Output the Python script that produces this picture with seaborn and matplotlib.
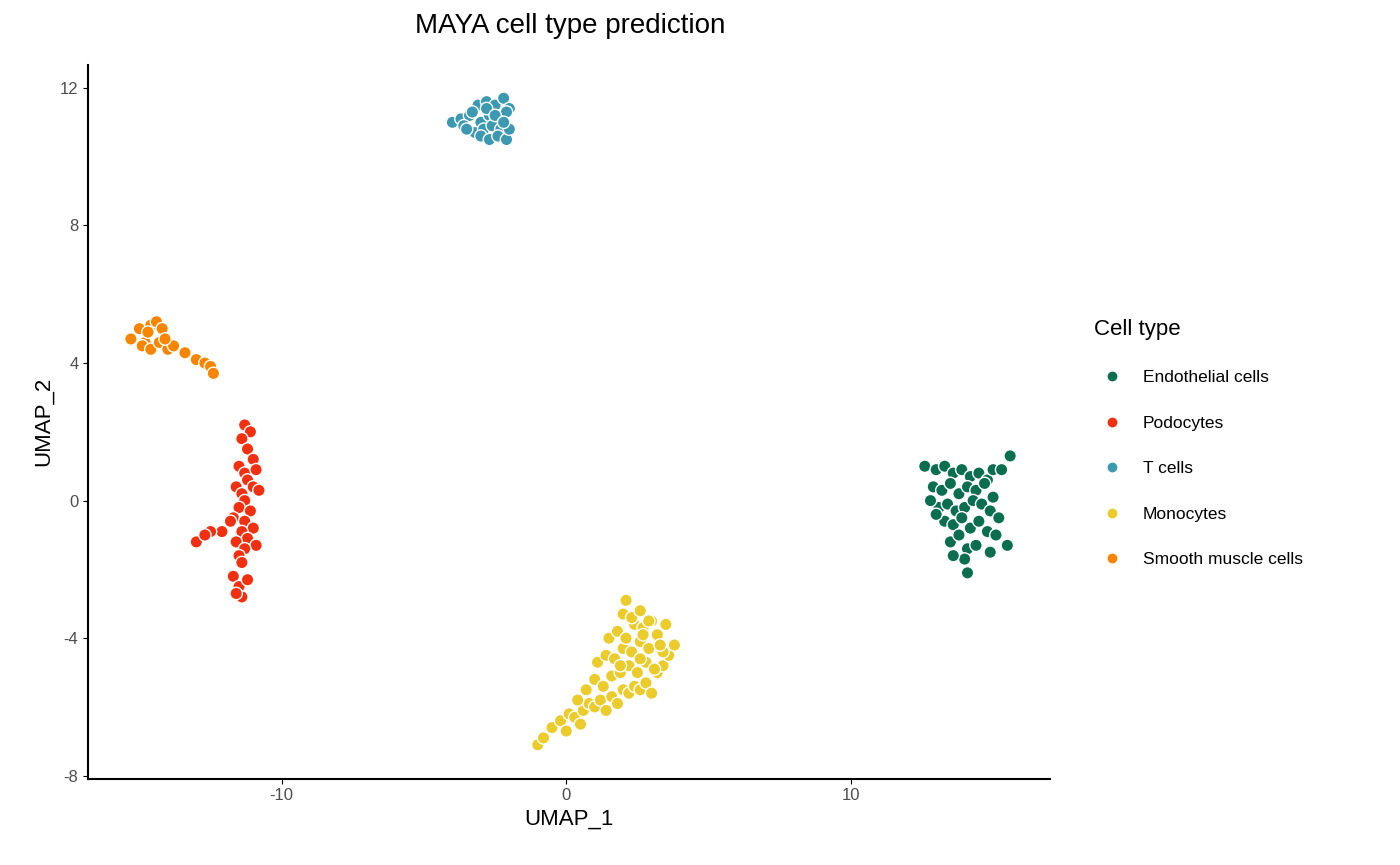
import pandas as pd
import matplotlib.pyplot as plt
import seaborn as sns

# cluster coordinates
endo_x = [12.6, 13.0, 13.3, 13.6, 13.9, 14.2, 14.5, 14.8, 15.0, 15.3, 15.6, 12.9, 13.2, 13.5, 13.8,
          14.1, 14.4, 14.7, 15.0, 13.1, 13.4, 13.7, 14.0, 14.3, 14.6, 14.9, 15.2, 13.3, 13.6, 13.9,
          14.2, 14.5, 14.8, 15.1, 13.5, 13.8, 14.1, 14.4, 14.0, 14.1, 12.8, 13.0, 15.5, 14.9, 13.6]
endo_y = [1.0, 0.9, 1.0, 0.8, 0.9, 0.7, 0.8, 0.6, 0.9, 0.9, 1.3, 0.4, 0.3, 0.5, 0.2, 0.4, 0.3,
          0.5, 0.1, -0.2, -0.1, -0.3, -0.2, 0.0, -0.1, -0.3, -0.5, -0.6, -0.7, -0.5, -0.8, -0.6,
          -0.9, -1.0, -1.2, -1.0, -1.4, -1.3, -1.7, -2.1, 0.0, -0.4, -1.3, -1.5, -1.6]
podo_x = [-11.3, -11.1, -11.4, -11.2, -11.0, -11.5, -11.3, -10.9, -11.2, -11.6, -11.4, -11.0,
          -10.8, -11.3, -11.5, -11.1, -11.7, -11.3, -11.0, -11.4, -11.2, -11.6, -10.9, -11.3,
          -11.5, -11.8, -12.1, -12.5, -13.0, -12.7, -11.4, -11.7, -11.5, -11.2, -11.4, -11.6]
podo_y = [2.2, 2.0, 1.8, 1.5, 1.2, 1.0, 0.8, 0.9, 0.6, 0.4, 0.2, 0.4, 0.3, 0.0, -0.2, -0.3,
          -0.5, -0.6, -0.8, -0.9, -1.1, -1.2, -1.3, -1.4, -1.6, -0.6, -0.9, -0.9, -1.2, -1.0,
          -1.8, -2.2, -2.5, -2.3, -2.8, -2.7]
tcell_x = [-4.0, -3.7, -3.4, -3.1, -2.8, -2.5, -2.2, -2.0, -3.6, -3.3, -3.0, -2.7, -2.4, -2.1,
           -3.2, -2.9, -2.6, -2.3, -3.0, -2.7, -2.4, -2.1, -2.8, -2.5, -3.5, -2.0, -2.2]
tcell_y = [11.0, 11.1, 11.2, 11.5, 11.6, 11.5, 11.7, 11.4, 10.9, 11.3, 11.0, 11.2, 11.1, 11.3,
           10.7, 10.8, 10.9, 10.8, 10.6, 10.5, 10.6, 10.5, 11.4, 11.2, 10.8, 10.8, 11.0]
mono_x = [-1.0, -0.8, -0.5, -0.2, 0.1, 0.3, 0.6, 0.8, 1.0, 1.2, 1.4, 1.6, 1.8, 2.0, 2.2, 2.4,
          2.6, 2.8, 3.0, 3.2, 3.4, 3.6, 3.8, 0.4, 0.7, 1.0, 1.3, 1.6, 1.9, 2.2, 2.5, 2.8, 3.1,
          3.4, 1.1, 1.4, 1.7, 2.0, 2.3, 2.6, 2.9, 3.2, 3.5, 1.5, 1.8, 2.1, 2.4, 2.7, 3.0, 2.0,
          2.3, 2.6, 2.9, 0.0, 0.5, 2.1, 2.7, 3.3, 1.9, 2.6]
mono_y = [-7.1, -6.9, -6.6, -6.4, -6.2, -6.3, -6.1, -5.9, -6.0, -5.8, -6.1, -5.7, -5.9, -5.5,
          -5.6, -5.4, -5.5, -5.3, -5.6, -5.0, -4.8, -4.5, -4.2, -5.8, -5.5, -5.2, -5.4, -5.1,
          -5.0, -4.8, -5.0, -4.7, -4.9, -4.4, -4.7, -4.5, -4.6, -4.3, -4.4, -4.1, -4.3, -3.9,
          -3.6, -4.0, -3.8, -4.0, -3.6, -3.7, -3.5, -3.3, -3.4, -3.2, -3.5, -6.7, -6.5, -2.9,
          -3.9, -4.2, -4.8, -4.6]
smc_x = [-15.3, -15.0, -14.8, -14.6, -14.4, -14.2, -14.9, -14.6, -14.3, -14.0, -13.8, -13.4,
         -13.0, -12.7, -12.5, -12.4, -14.7, -14.1]
smc_y = [4.7, 5.0, 4.6, 5.1, 5.2, 5.0, 4.5, 4.4, 4.6, 4.4, 4.5, 4.3, 4.1, 4.0, 3.9, 3.7,
         4.9, 4.7]

cell_types = ['Endothelial cells', 'Podocytes', 'T cells', 'Monocytes', 'Smooth muscle cells']
colors = ['#0b6e4f', '#f2300f', '#3b9ab2', '#ebcc2a', '#f98400']

parts = [(endo_x, endo_y), (podo_x, podo_y), (tcell_x, tcell_y), (mono_x, mono_y), (smc_x, smc_y)]
frames = [pd.DataFrame({'UMAP_1': xs, 'UMAP_2': ys, 'Cell type': name})
          for name, (xs, ys) in zip(cell_types, parts)]
df = pd.concat(frames, ignore_index=True)

sns.set_style("ticks")
plt.rcParams['font.family'] = ['Liberation Sans', 'DejaVu Sans']
plt.rcParams['axes.unicode_minus'] = False

fig = plt.figure(figsize=(14, 8.65), dpi=100)
ax = fig.add_axes([0.063, 0.10, 0.687, 0.825])
sns.scatterplot(data=df, x='UMAP_1', y='UMAP_2', hue='Cell type', hue_order=cell_types,
                palette=colors, s=80, edgecolor='white', linewidth=1, ax=ax)

ax.set_xlim(-16.8, 17.0)
ax.set_ylim(-8.08, 12.67)
ax.set_xticks([-10, 0, 10])
ax.set_yticks([-8, -4, 0, 4, 8, 12])
ax.tick_params(labelsize=12, colors='black', labelcolor='#4d4d4d')
ax.set_xlabel('UMAP_1', fontsize=16, color='black')
ax.set_ylabel('UMAP_2', fontsize=16, color='black')
for side in ['top', 'right']:
    ax.spines[side].set_visible(False)
for side in ['left', 'bottom']:
    ax.spines[side].set_linewidth(1.5)
    ax.spines[side].set_color('black')
fig.suptitle('MAYA cell type prediction', fontsize=20, x=0.407, y=0.985, color='black')

leg = ax.legend(title='Cell type', loc='center left', bbox_to_anchor=(1.03, 0.47), frameon=False,
                fontsize=12.5, title_fontsize=16, markerscale=0.9, labelspacing=1.75,
                alignment='left')
leg.get_title().set_color('black')
for t in leg.get_texts():
    t.set_color('black')

plt.savefig('out.png', dpi=100)
